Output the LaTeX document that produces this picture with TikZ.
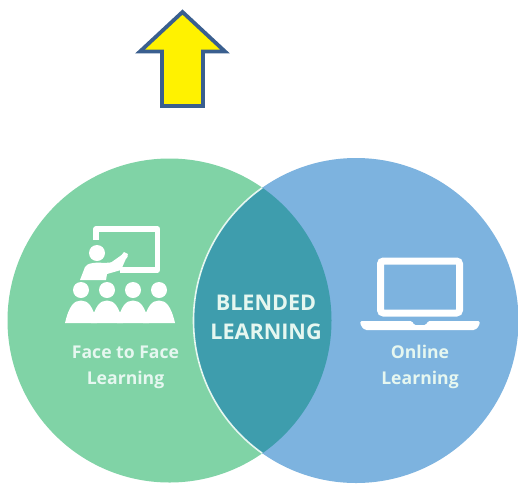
\documentclass[tikz,border=0pt]{standalone}
\usepackage{fontspec}
\setmainfont{Open Sans}
\definecolor{greenc}{HTML}{80D3A6}
\definecolor{bluec}{HTML}{7DB3DF}
\definecolor{lensc}{HTML}{3E9DAD}
\definecolor{arrowb}{HTML}{3A5F8F}
\definecolor{soft}{HTML}{E6F7F0}
\tikzset{
  lbl/.style={text=soft,font=\bfseries\fontsize{17.6}{26}\selectfont,align=center,inner sep=0pt},
  lenslbl/.style={text=soft,font=\bfseries\fontsize{21.6}{29}\selectfont,align=center,inner sep=0pt},
  ico/.style={fill=white,draw=none},
  icoline/.style={draw=white,line width=5.5pt,line join=round}
}
\begin{document}
\begin{tikzpicture}[x=1pt,y=-1pt]
\useasboundingbox (0,0) rectangle (518,485);
\fill[white] (0,0) rectangle (518,485);
\path[clip] (0,0) rectangle (518,485);
% circles
\fill[greenc] (169.5,320.5) circle (162);
\fill[bluec] (356,320.5) circle (162.5);
\begin{scope}
  \clip (169.5,320.5) circle (162);
  \fill[lensc] (356,320.5) circle (162.5);
  \clip (150,158) rectangle (262.5,484);
  \draw[soft,line width=1.6pt] (356,320.5) circle (162.5);
\end{scope}
% up arrow
\draw[fill=yellow,draw=arrowb,line width=3.8pt,miter limit=10]
  (182.5,12) -- (225,51.5) -- (203,51.5) -- (203,106) -- (162,106) -- (162,51.5) -- (140,51.5) -- cycle;
% teacher icon
\draw[icoline] (96,240) -- (96,229) -- (157.5,229) -- (157.5,270) -- (120,270);
\fill[ico] (97,253) circle (8);
\fill[ico] (80,280) -- (85,267) .. controls (87,263) and (96,262) .. (104,263) -- (116,262) -- (124,252) -- (128,254) -- (121,270) -- (107,274) -- (106,280) -- cycle;
\draw[white,line width=5.5pt,line cap=round] (108,268) -- (125,256);
\foreach \x in {81,107,133,159}{
  \fill[ico] (\x,290) circle (8);
  \fill[ico] (\x-16,323) .. controls (\x-12,306) and (\x-7,300.5) .. (\x,300.5) .. controls (\x+7,300.5) and (\x+12,306) .. (\x+16,323) -- cycle;
}
% laptop icon
\draw[white,line width=7pt,rounded corners=3pt] (380.5,261) rectangle (459.5,313);
\fill[ico,rounded corners=1.5pt] (360,321) -- (412,321) -- (414,325) -- (426,325) -- (428,321) -- (480,321) -- (479,326) -- (475,330) -- (365,330) -- (361,326) -- cycle;
% labels
\node[lbl] (ftf) at (125.5,367) {Face to Face\\Learning};
\node[lbl] (onl) at (420,367) {Online\\Learning};
\node[lenslbl] (bl) at (266,317.5) {BLENDED\\LEARNING};
\end{tikzpicture}
\end{document}
